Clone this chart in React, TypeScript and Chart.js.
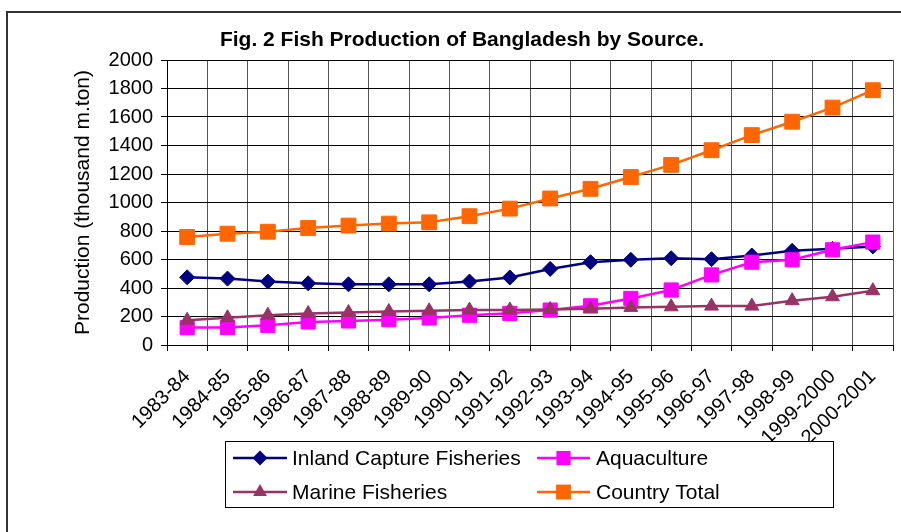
import React, { useEffect, useRef } from 'react';
import { Chart, registerables } from 'chart.js';

Chart.register(...registerables);

const categories = [
  '1983-84', '1984-85', '1985-86', '1986-87', '1987-88', '1988-89', '1989-90', '1990-91', '1991-92',
  '1992-93', '1993-94', '1994-95', '1995-96', '1996-97', '1997-98', '1998-99', '1999-2000', '2000-2001',
];
const inlandCapture = [475, 466, 445, 433, 426, 426, 426, 445, 474, 534, 581, 598, 609, 602, 628, 661, 675, 692];
const aquaculture = [122, 122, 138, 162, 169, 178, 190, 209, 222, 245, 275, 327, 386, 492, 581, 598, 668, 722];
const marine = [174, 191, 209, 221, 228, 235, 240, 245, 246, 249, 254, 264, 268, 273, 273, 311, 339, 381];
const countryTotal = [758, 781, 795, 821, 838, 852, 861, 904, 957, 1028, 1096, 1179, 1264, 1367, 1473, 1567, 1666, 1788];
const yTicks = [0, 200, 400, 600, 800, 1000, 1200, 1400, 1600, 1800, 2000];

const seriesNames = ['Inland Capture Fisheries', 'Aquaculture', 'Marine Fisheries', 'Country Total'];
const titleText = 'Fig. 2 Fish Production of Bangladesh by Source.';
const yTitle = 'Production (thousand m.ton)';

const FONT = "'Liberation Sans', Arial, sans-serif";
const PLOT_RIGHT = 893;

function drawMarker(ctx: CanvasRenderingContext2D, style: string, x: number, y: number, r: number, color: string) {
  ctx.fillStyle = color;
  ctx.beginPath();
  if (style === 'rectRot') {
    ctx.moveTo(x, y - r);
    ctx.lineTo(x + r, y);
    ctx.lineTo(x, y + r);
    ctx.lineTo(x - r, y);
  } else if (style === 'rect') {
    const s = r * Math.SQRT1_2;
    ctx.rect(x - s, y - s, 2 * s, 2 * s);
  } else if (style === 'triangle') {
    ctx.moveTo(x, y - r);
    ctx.lineTo(x + r * Math.cos(Math.PI / 6), y + r * 0.5);
    ctx.lineTo(x - r * Math.cos(Math.PI / 6), y + r * 0.5);
  }
  ctx.closePath();
  ctx.fill();
}

const framePlugin = {
  id: 'frameAndTitle',
  afterLayout(chart: any) {
    const xs = chart.scales.x;
    if (xs && xs.right !== PLOT_RIGHT) {
      xs.right = PLOT_RIGHT;
      xs.width = PLOT_RIGHT - xs.left;
      chart.chartArea.right = PLOT_RIGHT;
      chart.chartArea.width = PLOT_RIGHT - chart.chartArea.left;
      xs.configure();
      const ys = chart.scales.y;
      if (ys) ys.configure();
    }
  },
  beforeDraw(chart: any) {
    const ctx = chart.ctx as CanvasRenderingContext2D;
    ctx.save();
    ctx.fillStyle = '#fff';
    ctx.fillRect(0, 0, chart.width, chart.height);
    ctx.strokeStyle = '#333';
    ctx.lineWidth = 2;
    ctx.strokeRect(7, 12, 1000, 1000);
    ctx.restore();
  },
  afterDraw(chart: any) {
    const ctx = chart.ctx as CanvasRenderingContext2D;
    ctx.save();
    ctx.fillStyle = '#000';
    ctx.font = `bold 21px ${FONT}`;
    ctx.textAlign = 'center';
    ctx.textBaseline = 'alphabetic';
    ctx.fillText(titleText, 462, 46);

    ctx.fillStyle = '#fff';
    ctx.fillRect(225, 441, 608, 67);
    ctx.strokeStyle = '#000';
    ctx.lineWidth = 1;
    ctx.strokeRect(225.5, 441.5, 608, 66);
    const slots = [
      { lx: 233, rx: 287, tx: 292, y: 458 },
      { lx: 537, rx: 590, tx: 596, y: 458 },
      { lx: 233, rx: 287, tx: 292, y: 492 },
      { lx: 537, rx: 590, tx: 596, y: 492 },
    ];
    chart.data.datasets.forEach((ds: any, i: number) => {
      const s = slots[i];
      ctx.strokeStyle = ds.borderColor;
      ctx.lineWidth = 2.5;
      ctx.beginPath();
      ctx.moveTo(s.lx, s.y);
      ctx.lineTo(s.rx, s.y);
      ctx.stroke();
      drawMarker(ctx, ds.pointStyle, (s.lx + s.rx) / 2, s.y, ds.pointRadius, ds.pointBackgroundColor);
      ctx.fillStyle = '#000';
      ctx.font = `21px ${FONT}`;
      ctx.textAlign = 'left';
      ctx.textBaseline = 'middle';
      ctx.fillText(ds.label, s.tx, s.y + 1);
    });
    ctx.restore();
  },
};

export default function App() {
  const ref = useRef<HTMLCanvasElement | null>(null);

  useEffect(() => {
    const canvas = ref.current;
    if (!canvas) return;
    const mk = (label: string, data: number[], color: string, style: string, radius: number, order: number) => ({
      label,
      data,
      borderColor: color,
      backgroundColor: color,
      pointBackgroundColor: color,
      pointBorderColor: color,
      pointBorderWidth: 1,
      pointStyle: style,
      pointRadius: radius,
      borderWidth: 2.5,
      tension: 0,
      order,
    });
    const chart = new Chart(canvas, {
      type: 'line',
      data: {
        labels: categories,
        datasets: [
          mk(seriesNames[0], inlandCapture, '#000080', 'rectRot', 7.5, 4),
          mk(seriesNames[1], aquaculture, '#FF00FF', 'rect', 10, 3),
          mk(seriesNames[2], marine, '#993366', 'triangle', 8, 2),
          mk(seriesNames[3], countryTotal, '#FF6600', 'rect', 10.5, 1),
        ],
      },
      options: {
        responsive: false,
        animation: false,
        devicePixelRatio: 1,
        layout: { padding: { top: 60, right: 8, left: 2, bottom: 0 } },
        plugins: {
          legend: { display: false },
          title: { display: false },
          tooltip: { enabled: false },
        },
        scales: {
          x: {
            type: 'category',
            offset: true,
            grid: { offset: true, color: '#555', lineWidth: 1, tickLength: 6, tickColor: '#000' },
            border: { color: '#000', width: 1 },
            ticks: {
              autoSkip: false,
              minRotation: 45,
              maxRotation: 45,
              padding: 14,
              color: '#000',
              font: { family: FONT, size: 20 },
            },
            afterFit(scale: any) {
              scale.height = 187;
              scale.paddingRight = 0;
              scale.paddingLeft = 0;
            },
          },
          y: {
            min: 0,
            max: 2000,
            afterBuildTicks(scale: any) {
              scale.ticks = yTicks.map((v) => ({ value: v }));
            },
            grid: { color: '#000', lineWidth: 1, tickLength: 6, tickColor: '#000' },
            border: { color: '#000', width: 1 },
            ticks: {
              padding: 8,
              color: '#000',
              font: { family: FONT, size: 20 },
              callback: (v: any) => String(v),
            },
            title: {
              display: true,
              text: yTitle,
              color: '#000',
              font: { family: FONT, size: 21 },
              padding: { top: 69, bottom: 0 },
            },
            afterFit(scale: any) {
              scale.width = 165;
            },
          },
        },
      },
      plugins: [framePlugin],
    } as any);
    return () => chart.destroy();
  }, []);

  return (
    <div style={{ position: 'fixed', left: 0, top: 0, width: 901, height: 532, background: '#fff' }}>
      <canvas ref={ref} width={901} height={532} style={{ display: 'block', width: 901, height: 532 }} />
    </div>
  );
}
